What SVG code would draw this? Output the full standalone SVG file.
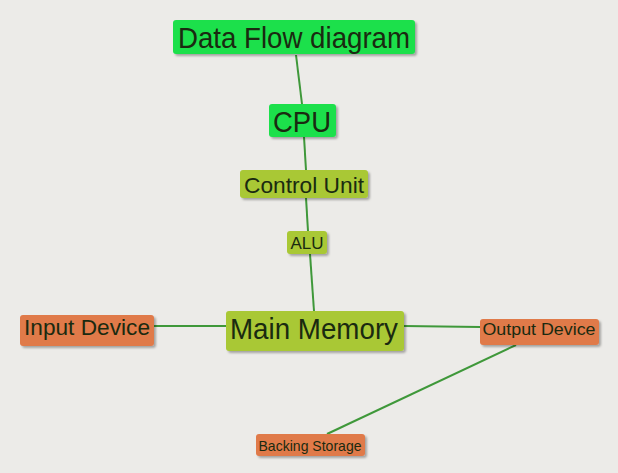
<svg xmlns="http://www.w3.org/2000/svg" width="618" height="473" viewBox="0 0 618 473">
<style>
text{font-family:"Liberation Sans",Arial,sans-serif;fill:#1a2a10;text-anchor:middle;dominant-baseline:central}
.g{fill:#1fe04c}.o{fill:#a9c834}.r{fill:#e07a4a}
rect{filter:url(#sh)}
.c line{stroke:#3f983a;stroke-width:2}
</style>
<defs><filter id="sh" x="-10%" y="-20%" width="130%" height="150%"><feDropShadow dx="2" dy="2" stdDeviation="1.2" flood-color="#000" flood-opacity="0.3"/></filter></defs>
<rect width="618" height="473" fill="#ecebe8" style="filter:none"/>
<g class="c">
<line x1="296" y1="55" x2="302" y2="104"/>
<line x1="304" y1="137" x2="306" y2="170"/>
<line x1="306" y1="198" x2="308" y2="231"/>
<line x1="310" y1="254" x2="314" y2="311"/>
<line x1="154" y1="326" x2="226" y2="326"/>
<line x1="404" y1="326" x2="480" y2="327"/>
<line x1="516" y1="345" x2="327" y2="434"/>
</g>
<g id="dfd"><rect class="g" x="173" y="20" width="242" height="34" rx="3"/><text x="294" y="38" font-size="29" textLength="232" lengthAdjust="spacingAndGlyphs">Data Flow diagram</text></g>
<g id="cpu"><rect class="g" x="269" y="104" width="67" height="33" rx="3"/><text x="302" y="122" font-size="29" textLength="58" lengthAdjust="spacingAndGlyphs">CPU</text></g>
<g id="cu"><rect class="o" x="240" y="170" width="128" height="28" rx="3"/><text x="304" y="185" font-size="22" textLength="120" lengthAdjust="spacingAndGlyphs">Control Unit</text></g>
<g id="alu"><rect class="o" x="287" y="231" width="40" height="23" rx="3"/><text x="307" y="243" font-size="16" textLength="33" lengthAdjust="spacingAndGlyphs">ALU</text></g>
<g id="mm"><rect class="o" x="226" y="311" width="178" height="40" rx="3"/><text x="314" y="329" font-size="29" textLength="168" lengthAdjust="spacingAndGlyphs">Main Memory</text></g>
<g id="in"><rect class="r" x="20" y="315" width="134" height="31" rx="3"/><text x="87" y="327" font-size="22" textLength="126" lengthAdjust="spacingAndGlyphs">Input Device</text></g>
<g id="out"><rect class="r" x="480" y="319" width="119" height="26" rx="3"/><text x="539" y="329" font-size="17" textLength="113" lengthAdjust="spacingAndGlyphs">Output Device</text></g>
<g id="bs"><rect class="r" x="256" y="434" width="109" height="22" rx="3"/><text x="310" y="445" font-size="15" textLength="103" lengthAdjust="spacingAndGlyphs">Backing Storage</text></g>
</svg>
